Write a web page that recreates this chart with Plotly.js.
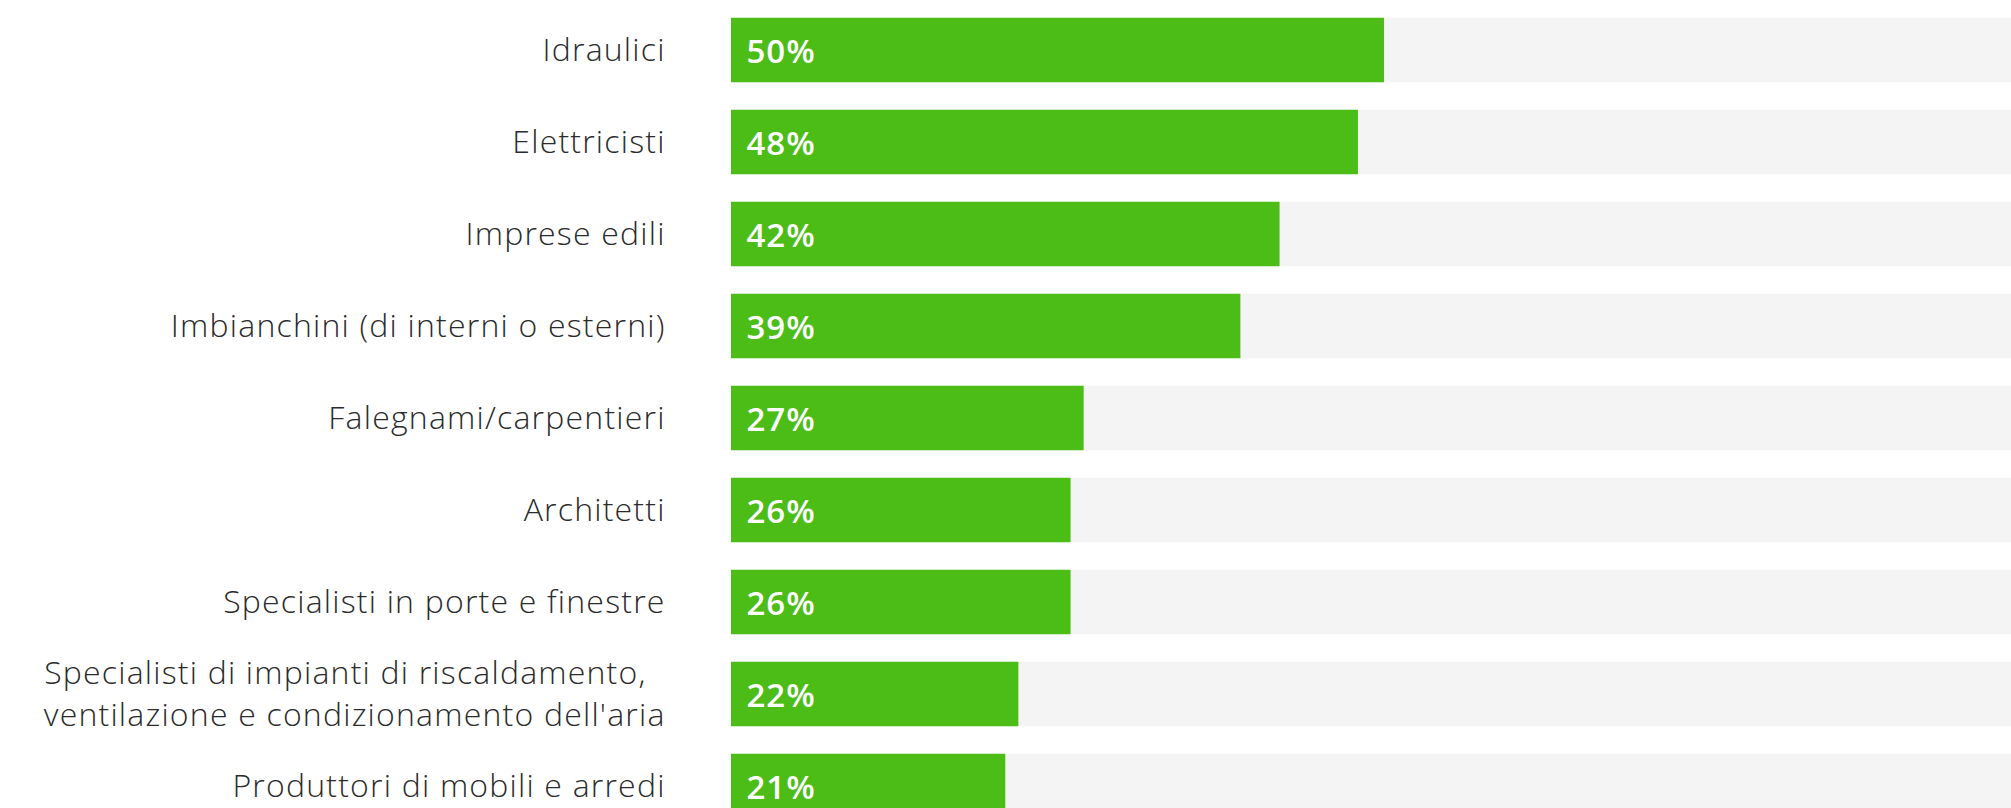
<!DOCTYPE html>
<html>
<head>
<meta charset="utf-8">
<script src="https://cdn.plot.ly/plotly-3.0.1.min.js"></script>
<style>
html, body { margin: 0; padding: 0; background: #ffffff; }
#chart { width: 2011px; height: 808px; }
#chart .ytick text { letter-spacing: 1.2px; }
#chart .annotation-text { letter-spacing: 1px; }
</style>
</head>
<body>
<div id="chart"></div>
<script>
var categories = [
  "Idraulici",
  "Elettricisti",
  "Imprese edili",
  "Imbianchini (di interni o esterni)",
  "Falegnami/carpentieri",
  "Architetti",
  "Specialisti in porte e finestre",
  "Specialisti di impianti di riscaldamento,\u00a0\u00a0<br>ventilazione e condizionamento dell'aria",
  "Produttori di mobili e arredi"
];
var values = [50, 48, 42, 39, 27, 26, 26, 22, 21];
var trackValues = [100, 100, 100, 100, 100, 100, 100, 100, 100];
var valueLabels = values.map(function (v) { return v + "%"; });

var labelFont = { family: "'Open Sans', Lato, sans-serif", size: 32, color: "#2b2b2b", weight: 300 };

var track = {
  type: "bar",
  orientation: "h",
  x: trackValues,
  y: categories,
  marker: { color: "#f4f4f4", line: { width: 0 } },
  width: 0.7,
  hoverinfo: "skip",
  showlegend: false
};
var bars = {
  type: "bar",
  orientation: "h",
  x: values,
  y: categories,
  marker: { color: "#4cbc17", line: { width: 0 } },
  width: 0.7,
  hoverinfo: "skip",
  showlegend: false
};

var annotations = categories.map(function (c, i) {
  return {
    x: 0, y: c, xref: "x", yref: "y",
    text: valueLabels[i],
    showarrow: false,
    xanchor: "left", yanchor: "middle",
    xshift: 15,
    font: { family: "'Open Sans', Lato, sans-serif", size: 33, color: "#ffffff", weight: 600 }
  };
});

var layout = {
  width: 2011,
  height: 808,
  margin: { l: 731, r: 0, t: 0, b: 0, pad: 0 },
  paper_bgcolor: "#ffffff",
  plot_bgcolor: "#ffffff",
  barmode: "overlay",
  showlegend: false,
  xaxis: {
    range: [0, 98],
    showgrid: false, zeroline: false, showticklabels: false, showline: false, fixedrange: true
  },
  yaxis: {
    type: "category",
    categoryorder: "array",
    categoryarray: categories,
    range: [8.239, -0.5435],
    showgrid: false, zeroline: false, showline: false,
    ticks: "outside", ticklen: 58, tickcolor: "rgba(0,0,0,0)",
    tickfont: labelFont,
    automargin: false,
    fixedrange: true
  },
  annotations: annotations
};

Plotly.newPlot("chart", [track, bars], layout, { displayModeBar: false, staticPlot: true });
</script>
</body>
</html>
